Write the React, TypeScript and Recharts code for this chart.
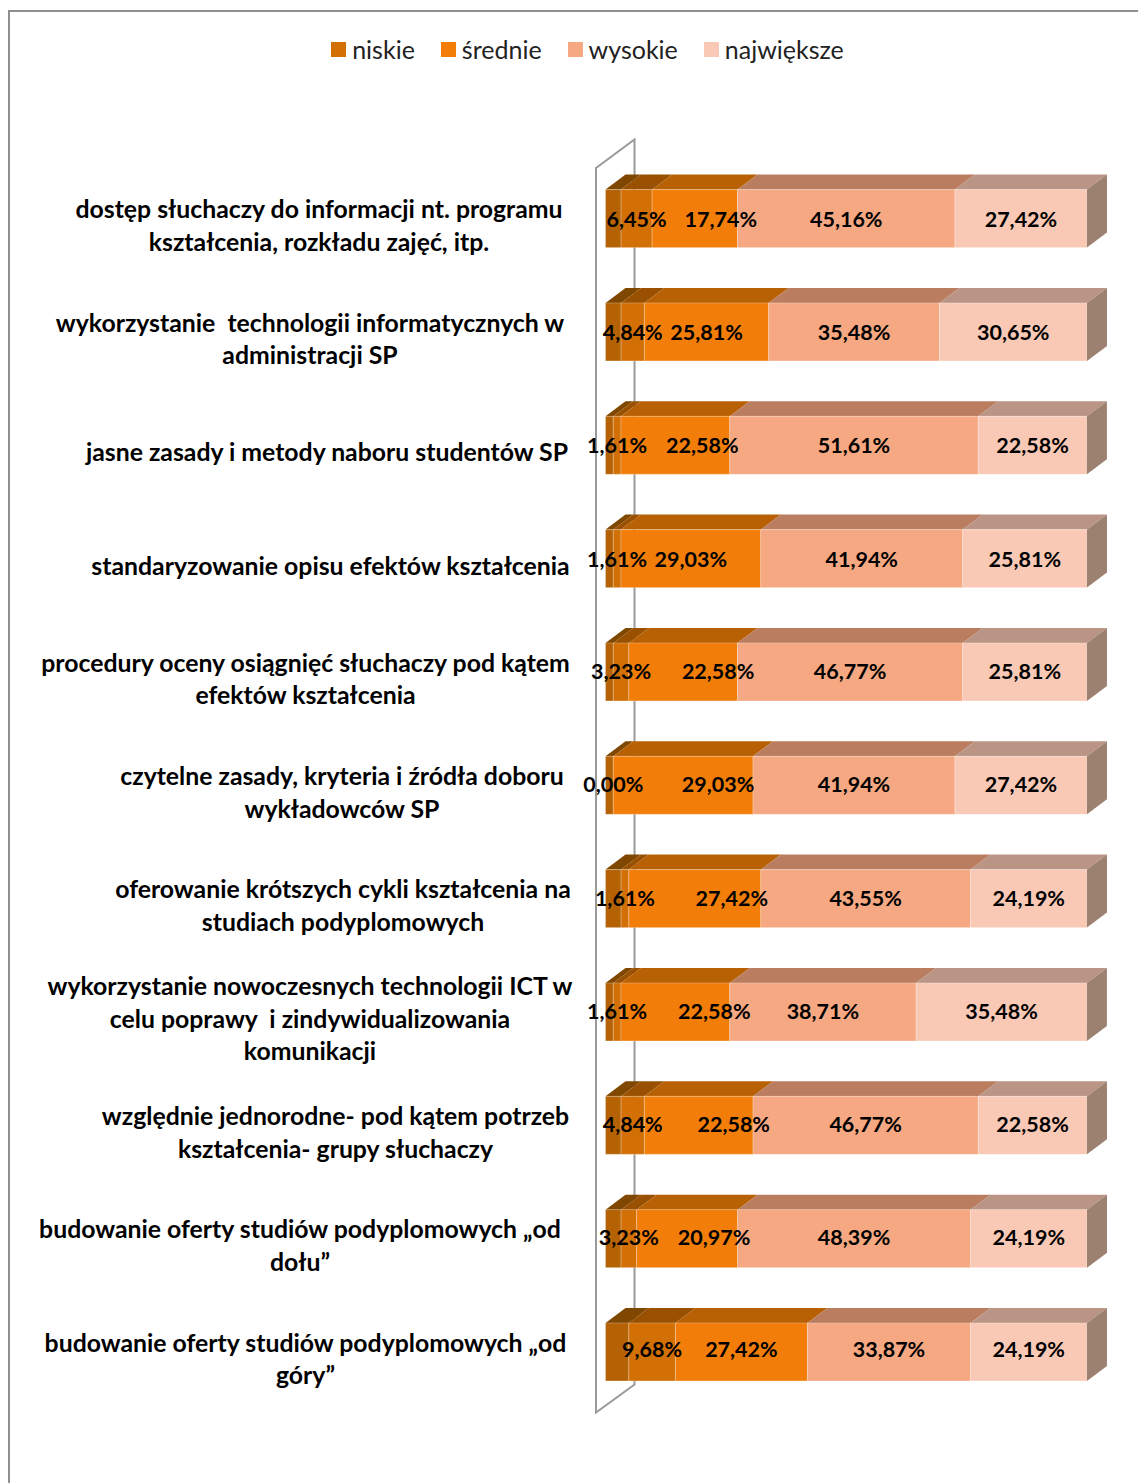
import { BarChart, Bar, XAxis, YAxis, Legend, LabelList, Customized } from "recharts";

const categories = [
  "dostęp słuchaczy do informacji nt. programu\nkształcenia, rozkładu zajęć, itp.",
  "wykorzystanie  technologii informatycznych w\nadministracji SP",
  "jasne zasady i metody naboru studentów SP",
  "standaryzowanie opisu efektów kształcenia",
  "procedury oceny osiągnięć słuchaczy pod kątem\nefektów kształcenia",
  "czytelne zasady, kryteria i źródła doboru\nwykładowców SP",
  "oferowanie krótszych cykli kształcenia na\nstudiach podyplomowych",
  "wykorzystanie nowoczesnych technologii ICT w\ncelu poprawy  i zindywidualizowania\nkomunikacji",
  "względnie jednorodne- pod kątem potrzeb\nkształcenia- grupy słuchaczy",
  "budowanie oferty studiów podyplomowych „od\ndołu”",
  "budowanie oferty studiów podyplomowych „od\ngóry”",
];

// unlabelled first part of every bar, not in the legend
const bardzoNiskie = [3.23, 3.23, 1.61, 1.61, 1.61, 1.61, 3.23, 1.61, 3.23, 3.23, 4.84];
const niskie = [6.45, 4.84, 1.61, 1.61, 3.23, 0, 1.61, 1.61, 4.84, 3.23, 9.68];
const srednie = [17.74, 25.81, 22.58, 29.03, 22.58, 29.03, 27.42, 22.58, 22.58, 20.97, 27.42];
const wysokie = [45.16, 35.48, 51.61, 41.94, 46.77, 41.94, 43.55, 38.71, 46.77, 48.39, 33.87];
const najwieksze = [27.42, 30.65, 22.58, 25.81, 25.81, 27.42, 24.19, 35.48, 22.58, 24.19, 24.19];

const data = categories.map((name, i) => ({
  name,
  bardzoNiskie: bardzoNiskie[i],
  niskie: niskie[i],
  srednie: srednie[i],
  wysokie: wysokie[i],
  najwieksze: najwieksze[i],
}));

// centre of each axis label block
const labelCenters = [319, 310, 327, 330.5, 305.5, 342, 343, 310, 335.5, 300, 305.5];
// the "średnie" labels were dragged off centre in the original
const sredniLabelShift = [26, 0, 27, 0, 35, 35, 37, 39, 35, 27, 0];
const labelRowNudge = [0, 0, 0, 0, -1, -1, -1, -1, -1, -2, -3];

const DEPTH_X = 20;
const DEPTH_Y = 15;
const FONT = "Lato, sans-serif";

const formatPercent = (value: number) => value.toFixed(2).replace(".", ",") + "%";

function box3d(front: string, top: string, side?: string) {
  return (props: any) => {
    const { x, y, width, height } = props;
    return (
      <g>
        <polygon
          points={`${x},${y} ${x + DEPTH_X},${y - DEPTH_Y} ${x + width + DEPTH_X},${y - DEPTH_Y} ${x + width},${y}`}
          fill={top}
        />
        <rect x={x} y={y} width={width} height={height} fill={front} stroke="rgba(255,255,255,0.25)" strokeWidth={1} />
        {side && (
          <polygon
            points={`${x + width},${y} ${x + width + DEPTH_X},${y - DEPTH_Y} ${x + width + DEPTH_X},${y + height - DEPTH_Y} ${x + width},${y + height}`}
            fill={side}
          />
        )}
      </g>
    );
  };
}

function CategoryTick({ y, payload, index }: any) {
  const lines = String(payload.value).split("\n");
  const lineHeight = 32.5;
  const startY = y + 10 - ((lines.length - 1) * lineHeight) / 2;
  return (
    <text
      textAnchor="middle"
      fontFamily={FONT}
      fontWeight={700}
      fontSize={24.8}
      fill="#000"
      style={{ whiteSpace: "pre" }}
    >
      {lines.map((line, i) => (
        <tspan key={i} x={labelCenters[index]} y={startY + i * lineHeight} dominantBaseline="middle">
          {line}
        </tspan>
      ))}
    </text>
  );
}

function SideWall() {
  return (
    <polygon
      points="596,168 634.5,139.5 634.5,1384.5 596,1412.5"
      fill="#fff"
      stroke="#9a9a9a"
      strokeWidth={2}
    />
  );
}

function LegendRow({ payload }: any) {
  const order = ["niskie", "średnie", "wysokie", "największe"];
  const items = order.map((name) => (payload || []).find((item: any) => item.value === name)).filter(Boolean);
  return (
    <div
      style={{
        display: "flex",
        justifyContent: "center",
        gap: 26,
        paddingLeft: 88,
        fontFamily: FONT,
        fontSize: 25,
        lineHeight: "30px",
        color: "#222",
      }}
    >
      {items.map((item: any) => (
        <div key={item.value} style={{ display: "flex", alignItems: "center", gap: 6 }}>
          <span style={{ width: 15, height: 15, background: item.color, display: "inline-block" }} />
          <span>{item.value}</span>
        </div>
      ))}
    </div>
  );
}

function PercentLabel({ x, y, width, height, value, index, shift }: any) {
  return (
    <text
      x={x + width / 2 + (shift ? shift[index] : 0)}
      y={y + height / 2 + labelRowNudge[index]}
      textAnchor="middle"
      dominantBaseline="central"
      fontFamily={FONT}
      fontWeight={700}
      fontSize={21.5}
      fill="#000"
    >
      {formatPercent(value)}
    </text>
  );
}

export default function App() {
  return (
    <div style={{ position: "absolute", left: 0, top: 0, width: 1138, height: 1483, overflow: "hidden", background: "#fff" }}>
      <style>{"body{margin:0;overflow:hidden}"}</style>
      <div
        style={{
          position: "absolute",
          left: 8,
          top: 10,
          width: 1130,
          height: 1473,
          borderTop: "2px solid #8f8f8f",
          borderLeft: "2px solid #8f8f8f",
        }}
      />
      <div style={{ position: "absolute", left: 0, top: 0 }}>
        <BarChart
          width={1138}
          height={1483}
          data={data}
          layout="vertical"
          barSize={58}
          margin={{ top: 131.6, right: 51, left: 0, bottom: 74.7 }}
        >
          <Customized component={SideWall} />
          <XAxis type="number" domain={[0, 100]} hide />
          <YAxis
            type="category"
            dataKey="name"
            width={605.5}
            interval={0}
            axisLine={false}
            tickLine={false}
            tick={<CategoryTick />}
          />
          <Legend verticalAlign="top" height={30} wrapperStyle={{ top: 34 }} content={<LegendRow />} />
          <Bar
            dataKey="bardzoNiskie"
            stackId="a"
            legendType="none"
            isAnimationActive={false}
            fill="#b56205"
            shape={box3d("#b56205", "#7f4700")}
          />
          <Bar
            dataKey="niskie"
            name="niskie"
            stackId="a"
            isAnimationActive={false}
            fill="#d26f05"
            shape={box3d("#d26f05", "#995000")}
          >
            <LabelList dataKey="niskie" content={<PercentLabel />} />
          </Bar>
          <Bar
            dataKey="srednie"
            name="średnie"
            stackId="a"
            isAnimationActive={false}
            fill="#f27e09"
            shape={box3d("#f27e09", "#b86004")}
          >
            <LabelList dataKey="srednie" content={<PercentLabel shift={sredniLabelShift} />} />
          </Bar>
          <Bar
            dataKey="wysokie"
            name="wysokie"
            stackId="a"
            isAnimationActive={false}
            fill="#f5a881"
            shape={box3d("#f5a881", "#ba7d60")}
          >
            <LabelList dataKey="wysokie" content={<PercentLabel />} />
          </Bar>
          <Bar
            dataKey="najwieksze"
            name="największe"
            stackId="a"
            isAnimationActive={false}
            fill="#f9c9b5"
            shape={box3d("#f9c9b5", "#ba9585", "#9c8070")}
          >
            <LabelList dataKey="najwieksze" content={<PercentLabel />} />
          </Bar>
        </BarChart>
      </div>
    </div>
  );
}
